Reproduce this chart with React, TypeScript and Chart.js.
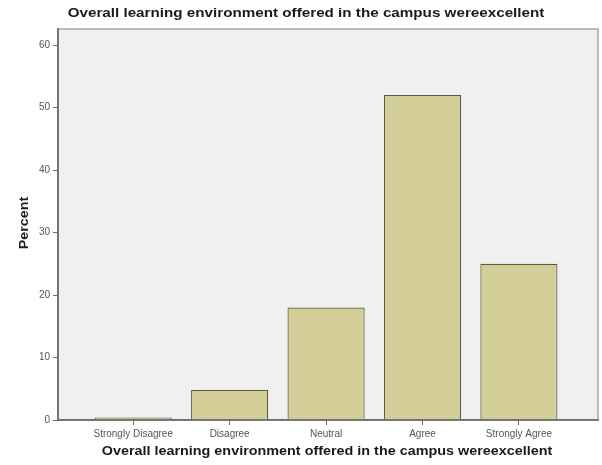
import React, { useEffect, useRef } from "react";
import { Chart, registerables } from "chart.js";

Chart.register(...registerables);

const chartTitle = "Overall learning environment offered in the campus wereexcellent";
const xTitle = "Overall learning environment offered in the campus wereexcellent";
const yTitle = "Percent";
const categories = ["Strongly Disagree", "Disagree", "Neutral", "Agree", "Strongly Agree"];
const percentValues = [0.4, 4.8, 18, 52, 25];
const yTicks = [0, 10, 20, 30, 40, 50, 60];

export default function App() {
  const ref = useRef<HTMLCanvasElement | null>(null);

  useEffect(() => {
    document.body.style.margin = "0";
    const canvas = ref.current;
    if (!canvas) return;

    const drawStretched = (ctx: any, text: string, cx: number, cy: number, sx: number) => {
      ctx.save();
      ctx.translate(cx, cy);
      ctx.scale(sx, 1);
      ctx.fillText(text, 0, 0);
      ctx.restore();
    };

    const bgPlugin = {
      id: "bgPlugin",
      beforeDraw(chart: any) {
        const { ctx, chartArea } = chart;
        ctx.save();
        ctx.fillStyle = "#f0f0f0";
        ctx.fillRect(chartArea.left, chartArea.top, chartArea.right - chartArea.left, chartArea.bottom - chartArea.top);
        ctx.strokeStyle = "#a6a6a6";
        ctx.lineWidth = 1.5;
        ctx.strokeRect(chartArea.left, chartArea.top, chartArea.right - chartArea.left, chartArea.bottom - chartArea.top);
        ctx.restore();
      },
      afterDraw(chart: any) {
        const { ctx, chartArea } = chart;
        ctx.save();
        ctx.fillStyle = "#1a1a1a";
        ctx.textBaseline = "middle";
        ctx.textAlign = "center";
        ctx.font = "bold 13px 'Liberation Sans', Arial, sans-serif";
        drawStretched(ctx, chartTitle, 306, 13, 1.17);
        ctx.font = "bold 12.5px 'Liberation Sans', Arial, sans-serif";
        drawStretched(ctx, xTitle, 327, 452, 1.15);
        ctx.translate(24, 223);
        ctx.rotate(-Math.PI / 2);
        ctx.font = "bold 13px 'Liberation Sans', Arial, sans-serif";
        ctx.scale(1.1, 1);
        ctx.fillText(yTitle, 0, 0);
        ctx.restore();
        ctx.save();
        ctx.strokeStyle = "#707070";
        ctx.lineWidth = 1.5;
        ctx.beginPath();
        ctx.moveTo(chartArea.left, chartArea.top);
        ctx.lineTo(chartArea.left, chartArea.bottom);
        ctx.lineTo(chartArea.right, chartArea.bottom);
        ctx.stroke();
        ctx.restore();
      },
    };

    const chart = new Chart(canvas, {
      type: "bar",
      data: {
        datasets: [
          {
            label: yTitle,
            data: percentValues.map((v, i) => ({ x: i, y: v })),
            backgroundColor: "#d3ce97",
            borderColor: "#5c5a3c",
            borderWidth: 1.2,
            barPercentage: 0.8,
            categoryPercentage: 1.0,
          },
        ],
      },
      options: {
        animation: false,
        responsive: false,
        maintainAspectRatio: false,
        layout: { padding: { top: 29, right: 4, left: 0, bottom: 0 } },
        plugins: {
          legend: { display: false },
          tooltip: { enabled: false },
          title: { display: false },
        },
        scales: {
          x: {
            type: "linear",
            offset: false,
            min: -0.78,
            max: 4.82,
            afterBuildTicks: (scale: any) => {
              scale.ticks = categories.map((_, i) => ({ value: i }));
            },
            afterFit: (scale: any) => {
              scale.height = 45;
            },
            ticks: {
              autoSkip: false,
              maxRotation: 0,
              padding: 3,
              color: "#555",
              font: { size: 10, family: "'Liberation Sans', Arial, sans-serif" },
              callback: (v: any) => categories[Math.round(Number(v))] ?? "",
            },
            grid: { offset: false, drawOnChartArea: false, tickLength: 5, color: "#707070", lineWidth: 1 },
            border: { display: true, color: "#707070", width: 1.5 },
          },
          y: {
            type: "linear",
            min: 0,
            max: 62.56,
            afterBuildTicks: (scale: any) => {
              scale.ticks = yTicks.map((v) => ({ value: v }));
            },
            afterFit: (scale: any) => {
              scale.width = 58;
            },
            ticks: {
              padding: 3,
              color: "#555",
              font: { size: 10, family: "'Liberation Sans', Arial, sans-serif" },
              callback: (v: any) => String(v),
            },
            grid: { drawOnChartArea: false, tickLength: 5, color: "#707070", lineWidth: 1 },
            border: { display: true, color: "#707070", width: 1.5 },
          },
        },
      },
      plugins: [bgPlugin],
    } as any);

    return () => chart.destroy();
  }, []);

  return (
    <div style={{ width: 602, height: 465, background: "#ffffff" }}>
      <canvas ref={ref} width={602} height={465} style={{ display: "block", width: 602, height: 465 }} />
    </div>
  );
}
